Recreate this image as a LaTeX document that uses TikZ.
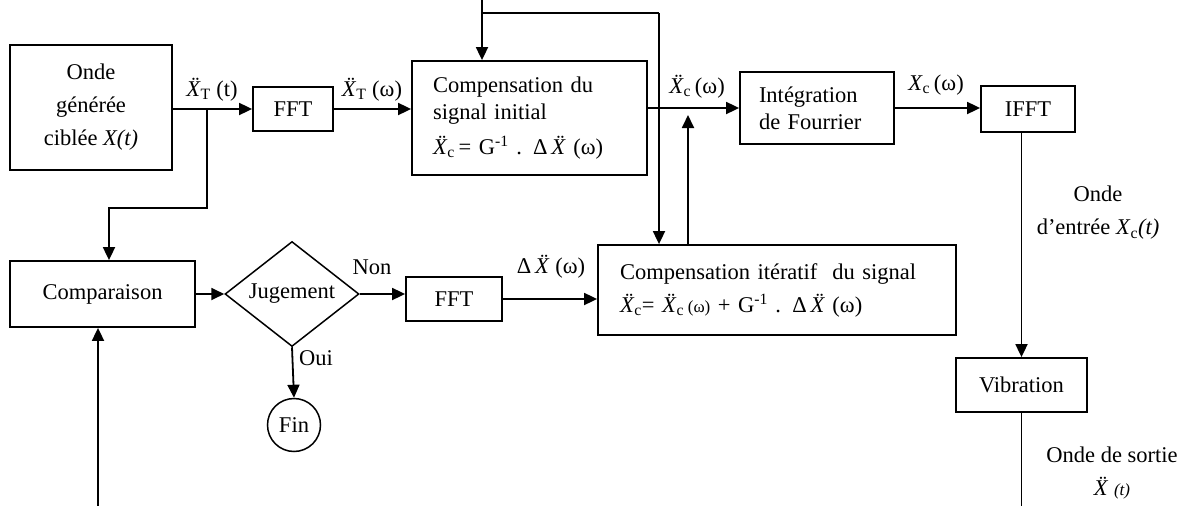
\documentclass[tikz,border=0pt]{standalone}
\usepackage{fontspec}
\setmainfont{Liberation Serif}
\usepackage{tikz}
\usetikzlibrary{arrows.meta,positioning,shapes.geometric,calc}

\newcommand{\Xdd}{\textit{\"X}}

\begin{document}
\begin{tikzpicture}[
    x=1pt, y=-1pt,
    font=\fontsize{22.5}{27}\selectfont,
    >={Triangle[length=13pt,width=12pt]},
    box/.style={draw, line width=1.8pt, align=center, inner sep=2pt},
    decide/.style={draw, line width=1.5pt, diamond, aspect=1.28, minimum width=134pt, minimum height=105pt, inner sep=1pt},
    term/.style={draw, line width=1.5pt, circle, minimum size=53pt, inner sep=0pt},
    arrow/.style={->, line width=1.8pt},
    wire/.style={line width=1.8pt},
    lbl/.style={inner sep=1pt, align=center}
]
\useasboundingbox (0,0) rectangle (1203,506);
% upper chain
\node[box, minimum width=162pt, minimum height=125pt, font=\fontsize{22.5}{33}\selectfont] (onde) at (91,107.5) {Onde\\générée\\ciblée \textit{X(t)}};
\node[box, minimum width=80pt, minimum height=44pt] (fftA) at (293,109) {FFT};
\node[box, text width=193pt, inner xsep=21pt, minimum height=114pt, align=left] (cinit) at (529.5,118) {Compensation du\\signal initial\\[8pt]\Xdd\textsubscript{c}\,= G\textsuperscript{-1} . Δ\,\Xdd\ (ω)};
\node[box, text width=116pt, inner xsep=19pt, minimum height=72pt, align=left] (integ) at (817,108) {Intégration\\de Fourrier};
\node[box, minimum width=94pt, minimum height=46pt] (ifft) at (1028,109) {IFFT};
\node[box, minimum width=131pt, minimum height=54pt] (vib) at (1021.5,385) {Vibration};
% lower chain
\node[box, minimum width=185pt, minimum height=66pt] (comp) at (102.5,294) {Comparaison};
\node[decide] (jug) at (292,294) {Jugement};
\node[term] (fin) at (294,425) {Fin};
\node[box, minimum width=96pt, minimum height=44pt] (fftB) at (454,299) {FFT};
\node[box, text width=314pt, inner xsep=22pt, minimum height=90pt, align=left] (iter) at (777,290) {Compensation itératif\ \ du signal\\[6pt]\Xdd\textsubscript{c}= \Xdd\textsubscript{c}\,{\fontsize{17}{20}\selectfont(ω)} + G\textsuperscript{-1} . Δ\,\Xdd\ (ω)};

\coordinate (split) at (207,109);
\coordinate (bend) at (207,208);
\coordinate (topin) at (482,0);
\coordinate (topturn) at (482,13);
\coordinate (fbturn) at (659,13);
\coordinate (merge) at (688,115);
\coordinate (inbot) at (98,506);
\coordinate (outbot) at (1021.5,506);

\draw[arrow] (onde.east |- fftA) -- (fftA.west);
\draw[arrow] (split) -- (bend) -| ([xshift=6.5pt]comp.north);
\draw[arrow] (fftA.east) -- (fftA.east -| cinit.west);
\draw[arrow] (topin) -- (topin |- cinit.north);
\draw[wire] (topturn) -- (fbturn);
\draw[arrow] (fbturn) -- (fbturn |- iter.north);
\draw[arrow] (cinit.east |- integ.west) -- (integ.west);
\draw[arrow] (iter.north -| merge) -- (merge);
\draw[arrow] (integ.east) -- (integ.east -| ifft.west);
\draw[arrow] (ifft.south -| vib.north) -- (vib.north);
\draw[wire] (vib.south) -- (outbot);
\draw[arrow] (inbot) -- (inbot |- comp.south);
\draw[arrow] (comp.east) -- (jug.west);
\draw[arrow] (jug.east) -- (jug.east -| fftB.west);
\draw[arrow] (jug.south) -- (fin.north);
\draw[arrow] (fftB.east) -- (fftB.east -| iter.west);

% signal labels
\node[lbl] (xtt) at (212,90) {\Xdd\textsubscript{T} (t)};
\node[lbl] (xtw) at (372,90) {\Xdd\textsubscript{T} (ω)};
\node[lbl] (xcw) at (697,87) {\Xdd\textsubscript{c}\,(ω)};
\node[lbl] (xcw2) at (936,85) {\textit{X}\textsubscript{c}\,(ω)};
\node[lbl] (xin) at (1098,213) {Onde\\[6pt]d’entrée \textit{X}\textsubscript{c}\textit{(t)}};
\node[lbl] (xout) at (1112,473) {Onde de sortie\\[6pt]\Xdd\ {\fontsize{17}{20}\selectfont\textit{(t)}}};
\node[lbl] (non) at (372,267) {Non};
\node[lbl] (oui) at (316,358) {Oui};
\node[lbl] (dxw) at (551,267) {Δ\,\Xdd\ (ω)};
\end{tikzpicture}
\end{document}
